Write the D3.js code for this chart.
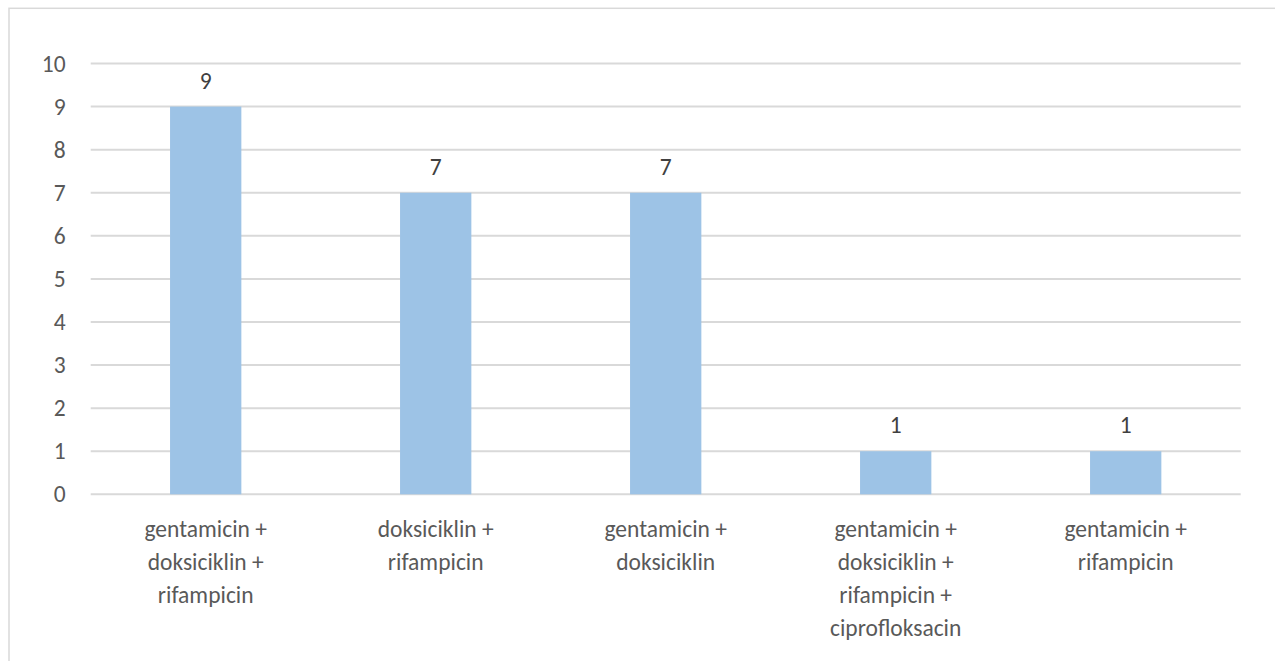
<!DOCTYPE html>
<html>
<head>
<meta charset="utf-8">
<script src="https://cdn.jsdelivr.net/npm/d3@7"></script>
<style>
  html, body { margin: 0; padding: 0; background: #fff; }
  svg { display: block; font-family: Carlito, Calibri, Lato, sans-serif; }
</style>
</head>
<body>
<svg id="chart" width="1275" height="661"></svg>
<script>
// Treatment combinations and number of patients
const categories = [
  ["gentamicin +", "doksiciklin +", "rifampicin"],
  ["doksiciklin +", "rifampicin"],
  ["gentamicin +", "doksiciklin"],
  ["gentamicin +", "doksiciklin +", "rifampicin +", "ciprofloksacin"],
  ["gentamicin +", "rifampicin"]
];
const values = [9, 7, 7, 1, 1];
const yTicks = [0, 1, 2, 3, 4, 5, 6, 7, 8, 9, 10];

const svg = d3.select("#chart");
const W = 1275, H = 661;
const margin = { left: 90.7, right: 34.3, top: 63.5, bottom: 166.7 };
const textColor = "#595959";
const gridColor = "#d9d9d9";
const fontSize = "23.5px";

// chart frame
svg.append("rect")
  .attr("x", 9).attr("y", 8.3)
  .attr("width", W + 20).attr("height", H + 20)
  .attr("fill", "#fff").attr("stroke", gridColor).attr("stroke-width", 1.5);

const keys = categories.map((c, i) => i);
const x = d3.scaleBand()
  .domain(keys)
  .range([margin.left, W - margin.right])
  .paddingInner(0.69).paddingOuter(0.345);

const y = d3.scaleLinear()
  .domain([0, 10])
  .range([H - margin.bottom, margin.top]);

// horizontal gridlines
svg.append("g")
  .selectAll("line")
  .data(yTicks)
  .join("line")
  .attr("x1", margin.left).attr("x2", W - margin.right)
  .attr("y1", d => y(d)).attr("y2", d => y(d))
  .attr("stroke", gridColor).attr("stroke-width", 2);

// y axis labels
const yAxis = d3.axisLeft(y).tickValues(yTicks).tickSize(0).tickPadding(0);
const gy = svg.append("g")
  .attr("transform", `translate(${margin.left - 25},0)`)
  .call(yAxis);
gy.select(".domain").remove();
gy.selectAll("text")
  .attr("fill", textColor)
  .style("font-size", fontSize)
  .style("font-family", "Carlito, Calibri, Lato, sans-serif");

// bars
svg.append("g")
  .selectAll("rect")
  .data(values)
  .join("rect")
  .attr("x", (d, i) => x(i))
  .attr("y", d => y(d))
  .attr("width", x.bandwidth())
  .attr("height", d => y(0) - y(d))
  .attr("fill", "#9dc3e6");

// value labels
svg.append("g")
  .selectAll("text")
  .data(values)
  .join("text")
  .attr("x", (d, i) => x(i) + x.bandwidth() / 2)
  .attr("y", d => y(d) - 18)
  .attr("text-anchor", "middle")
  .attr("fill", "#404040")
  .style("font-size", fontSize)
  .text(d => d);

// category labels (multi-line)
const gx = svg.append("g");
categories.forEach((lines, i) => {
  const t = gx.append("text")
    .attr("x", x(i) + x.bandwidth() / 2)
    .attr("y", y(0) + 43)
    .attr("text-anchor", "middle")
    .attr("fill", textColor)
    .style("font-size", fontSize);
  lines.forEach((ln, j) => {
    t.append("tspan")
      .attr("x", x(i) + x.bandwidth() / 2)
      .attr("dy", j === 0 ? 0 : 32.8)
      .text(ln);
  });
});
</script>
</body>
</html>
